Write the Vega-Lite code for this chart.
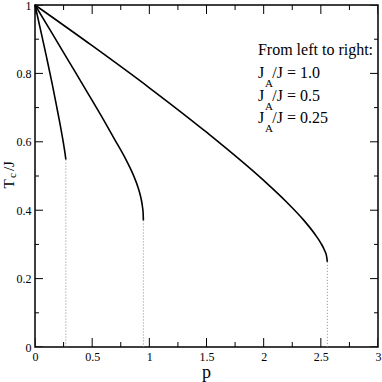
{
  "$schema": "https://vega.github.io/schema/vega-lite/v6.json",
  "width": 343,
  "height": 342,
  "autosize": "none",
  "padding": {"left": 35, "top": 5, "right": 4, "bottom": 35},
  "background": "white",
  "config": {
    "view": {"stroke": "black", "strokeWidth": 1.5},
    "font": "Liberation Serif"
  },
  "datasets": {
    "curves": [
      {"series": "JA/J = 1.0", "p": 0, "tc": 1},
      {"series": "JA/J = 1.0", "p": 0.05, "tc": 0.925},
      {"series": "JA/J = 1.0", "p": 0.1, "tc": 0.849},
      {"series": "JA/J = 1.0", "p": 0.15, "tc": 0.77},
      {"series": "JA/J = 1.0", "p": 0.19, "tc": 0.702},
      {"series": "JA/J = 1.0", "p": 0.22, "tc": 0.65},
      {"series": "JA/J = 1.0", "p": 0.24, "tc": 0.613},
      {"series": "JA/J = 1.0", "p": 0.255, "tc": 0.583},
      {"series": "JA/J = 1.0", "p": 0.264, "tc": 0.563},
      {"series": "JA/J = 1.0", "p": 0.27, "tc": 0.548},
      {"series": "JA/J = 0.5", "p": 0, "tc": 1},
      {"series": "JA/J = 0.5", "p": 0.15, "tc": 0.917},
      {"series": "JA/J = 0.5", "p": 0.3, "tc": 0.833},
      {"series": "JA/J = 0.5", "p": 0.45, "tc": 0.749},
      {"series": "JA/J = 0.5", "p": 0.6, "tc": 0.664},
      {"series": "JA/J = 0.5", "p": 0.7, "tc": 0.605},
      {"series": "JA/J = 0.5", "p": 0.8, "tc": 0.545},
      {"series": "JA/J = 0.5", "p": 0.87, "tc": 0.495},
      {"series": "JA/J = 0.5", "p": 0.9, "tc": 0.468},
      {"series": "JA/J = 0.5", "p": 0.925, "tc": 0.438},
      {"series": "JA/J = 0.5", "p": 0.94, "tc": 0.41},
      {"series": "JA/J = 0.5", "p": 0.946, "tc": 0.39},
      {"series": "JA/J = 0.5", "p": 0.948, "tc": 0.37},
      {"series": "JA/J = 0.25", "p": 0, "tc": 1},
      {"series": "JA/J = 0.25", "p": 0.5, "tc": 0.881},
      {"series": "JA/J = 0.25", "p": 1.0, "tc": 0.758},
      {"series": "JA/J = 0.25", "p": 1.5, "tc": 0.628},
      {"series": "JA/J = 0.25", "p": 2.0, "tc": 0.487},
      {"series": "JA/J = 0.25", "p": 2.2, "tc": 0.424},
      {"series": "JA/J = 0.25", "p": 2.35, "tc": 0.371},
      {"series": "JA/J = 0.25", "p": 2.45, "tc": 0.329},
      {"series": "JA/J = 0.25", "p": 2.5, "tc": 0.304},
      {"series": "JA/J = 0.25", "p": 2.53, "tc": 0.2845},
      {"series": "JA/J = 0.25", "p": 2.55, "tc": 0.266},
      {"series": "JA/J = 0.25", "p": 2.557, "tc": 0.249}
    ],
    "drops": [
      {"p": 0.27, "tc": 0.548},
      {"p": 0.948, "tc": 0.37},
      {"p": 2.557, "tc": 0.249}
    ],
    "xmajor": [{"v": 0}, {"v": 0.5}, {"v": 1}, {"v": 1.5}, {"v": 2}, {"v": 2.5}, {"v": 3}],
    "xminor": [{"v": 0.25}, {"v": 0.75}, {"v": 1.25}, {"v": 1.75}, {"v": 2.25}, {"v": 2.75}],
    "ymajor": [{"v": 0}, {"v": 0.2}, {"v": 0.4}, {"v": 0.6}, {"v": 0.8}, {"v": 1}],
    "yminor": [{"v": 0.1}, {"v": 0.3}, {"v": 0.5}, {"v": 0.7}, {"v": 0.9}],
    "legend": [
      {"p": 1.95, "tc": 0.854, "label": "From left to right:"},
      {"p": 1.95, "tc": 0.7865, "label": "J"},
      {"p": 2.076, "tc": 0.7865, "label": "/J = 1.0"},
      {"p": 1.95, "tc": 0.718, "label": "J"},
      {"p": 2.076, "tc": 0.718, "label": "/J = 0.5"},
      {"p": 1.95, "tc": 0.655, "label": "J"},
      {"p": 2.076, "tc": 0.655, "label": "/J = 0.25"}
    ],
    "subs": [
      {"p": 2.012, "tc": 0.76, "label": "A"},
      {"p": 2.012, "tc": 0.692, "label": "A"},
      {"p": 2.012, "tc": 0.629, "label": "A"}
    ],
    "ytitle": [
      {"p": -0.188, "tc": 0.4766, "label": "T"},
      {"p": -0.188, "tc": 0.529, "label": "/J"}
    ],
    "ytitlesub": [
      {"p": -0.162, "tc": 0.5015, "label": "c"}
    ],
    "xtitle": [
      {"p": 1.5, "tc": -0.09, "label": "p"}
    ]
  },
  "layer": [
    {
      "data": {"name": "curves"},
      "mark": {"type": "line", "color": "black", "strokeWidth": 1.6, "interpolate": "monotone", "clip": false},
      "encoding": {
        "x": {"field": "p", "type": "quantitative", "scale": {"domain": [0, 3], "nice": false, "zero": false},
              "axis": {"orient": "bottom", "grid": false, "domain": false, "title": null, "labelOverlap": false, "labelFlush": false,
                       "ticks": false, "labelColor": "black", "labelFont": "Liberation Serif",
                       "values": [0, 0.5, 1, 1.5, 2, 2.5, 3], "format": "~g", "labelFontSize": 12, "labelPadding": 4}},
        "y": {"field": "tc", "type": "quantitative", "scale": {"domain": [0, 1], "nice": false, "zero": false},
              "axis": {"orient": "left", "grid": false, "domain": false, "title": null, "labelOverlap": false, "labelFlush": false,
                       "ticks": false, "labelColor": "black", "labelFont": "Liberation Serif",
                       "values": [0, 0.2, 0.4, 0.6, 0.8, 1], "format": "~g", "labelFontSize": 12, "labelPadding": 4}},
        "detail": {"field": "series", "type": "nominal"}
      }
    },
    {
      "data": {"name": "drops"},
      "mark": {"type": "rule", "color": "#888888", "strokeWidth": 1, "strokeDash": [1, 2]},
      "encoding": {
        "x": {"field": "p", "type": "quantitative", "axis": null},
        "y": {"field": "tc", "type": "quantitative", "axis": null},
        "y2": {"datum": 0}
      }
    },
    {
      "data": {"name": "xmajor"},
      "mark": {"type": "tick", "orient": "vertical", "size": 18, "thickness": 1, "color": "black", "opacity": 1, "clip": true},
      "encoding": {
        "x": {"field": "v", "type": "quantitative", "axis": null},
        "y": {"datum": 0, "type": "quantitative", "axis": null}
      }
    },
    {
      "data": {"name": "xmajor"},
      "mark": {"type": "tick", "orient": "vertical", "size": 18, "thickness": 1, "color": "black", "opacity": 1, "clip": true},
      "encoding": {
        "x": {"field": "v", "type": "quantitative", "axis": null},
        "y": {"datum": 1, "type": "quantitative", "axis": null}
      }
    },
    {
      "data": {"name": "xminor"},
      "mark": {"type": "tick", "orient": "vertical", "size": 10, "thickness": 1, "color": "black", "opacity": 1, "clip": true},
      "encoding": {
        "x": {"field": "v", "type": "quantitative", "axis": null},
        "y": {"datum": 0, "type": "quantitative", "axis": null}
      }
    },
    {
      "data": {"name": "xminor"},
      "mark": {"type": "tick", "orient": "vertical", "size": 10, "thickness": 1, "color": "black", "opacity": 1, "clip": true},
      "encoding": {
        "x": {"field": "v", "type": "quantitative", "axis": null},
        "y": {"datum": 1, "type": "quantitative", "axis": null}
      }
    },
    {
      "data": {"name": "ymajor"},
      "mark": {"type": "tick", "orient": "horizontal", "size": 16, "thickness": 1, "color": "black", "opacity": 1, "clip": true},
      "encoding": {
        "y": {"field": "v", "type": "quantitative", "axis": null},
        "x": {"datum": 0, "type": "quantitative", "axis": null}
      }
    },
    {
      "data": {"name": "ymajor"},
      "mark": {"type": "tick", "orient": "horizontal", "size": 16, "thickness": 1, "color": "black", "opacity": 1, "clip": true},
      "encoding": {
        "y": {"field": "v", "type": "quantitative", "axis": null},
        "x": {"datum": 3, "type": "quantitative", "axis": null}
      }
    },
    {
      "data": {"name": "yminor"},
      "mark": {"type": "tick", "orient": "horizontal", "size": 8, "thickness": 1, "color": "black", "opacity": 1, "clip": true},
      "encoding": {
        "y": {"field": "v", "type": "quantitative", "axis": null},
        "x": {"datum": 0, "type": "quantitative", "axis": null}
      }
    },
    {
      "data": {"name": "yminor"},
      "mark": {"type": "tick", "orient": "horizontal", "size": 8, "thickness": 1, "color": "black", "opacity": 1, "clip": true},
      "encoding": {
        "y": {"field": "v", "type": "quantitative", "axis": null},
        "x": {"datum": 3, "type": "quantitative", "axis": null}
      }
    },
    {
      "data": {"name": "legend"},
      "mark": {"type": "text", "align": "left", "baseline": "alphabetic", "font": "Liberation Serif", "fontSize": 16, "color": "black"},
      "encoding": {
        "x": {"field": "p", "type": "quantitative", "axis": null},
        "y": {"field": "tc", "type": "quantitative", "axis": null},
        "text": {"field": "label", "type": "nominal"}
      }
    },
    {
      "data": {"name": "subs"},
      "mark": {"type": "text", "align": "left", "baseline": "alphabetic", "font": "Liberation Serif", "fontSize": 11, "color": "black"},
      "encoding": {
        "x": {"field": "p", "type": "quantitative", "axis": null},
        "y": {"field": "tc", "type": "quantitative", "axis": null},
        "text": {"field": "label", "type": "nominal"}
      }
    },
    {
      "data": {"name": "ytitle"},
      "mark": {"type": "text", "align": "center", "baseline": "alphabetic", "angle": 270, "font": "Liberation Serif", "fontSize": 15, "color": "black"},
      "encoding": {
        "x": {"field": "p", "type": "quantitative", "axis": null},
        "y": {"field": "tc", "type": "quantitative", "axis": null},
        "text": {"field": "label", "type": "nominal"}
      }
    },
    {
      "data": {"name": "ytitlesub"},
      "mark": {"type": "text", "align": "center", "baseline": "alphabetic", "angle": 270, "font": "Liberation Serif", "fontSize": 11, "color": "black"},
      "encoding": {
        "x": {"field": "p", "type": "quantitative", "axis": null},
        "y": {"field": "tc", "type": "quantitative", "axis": null},
        "text": {"field": "label", "type": "nominal"}
      }
    },
    {
      "data": {"name": "xtitle"},
      "mark": {"type": "text", "align": "center", "baseline": "alphabetic", "font": "Liberation Serif", "fontSize": 18, "color": "black"},
      "encoding": {
        "x": {"field": "p", "type": "quantitative", "axis": null},
        "y": {"field": "tc", "type": "quantitative", "axis": null},
        "text": {"field": "label", "type": "nominal"}
      }
    }
  ],
  "resolve": {"axis": {"x": "independent", "y": "independent"}}
}
